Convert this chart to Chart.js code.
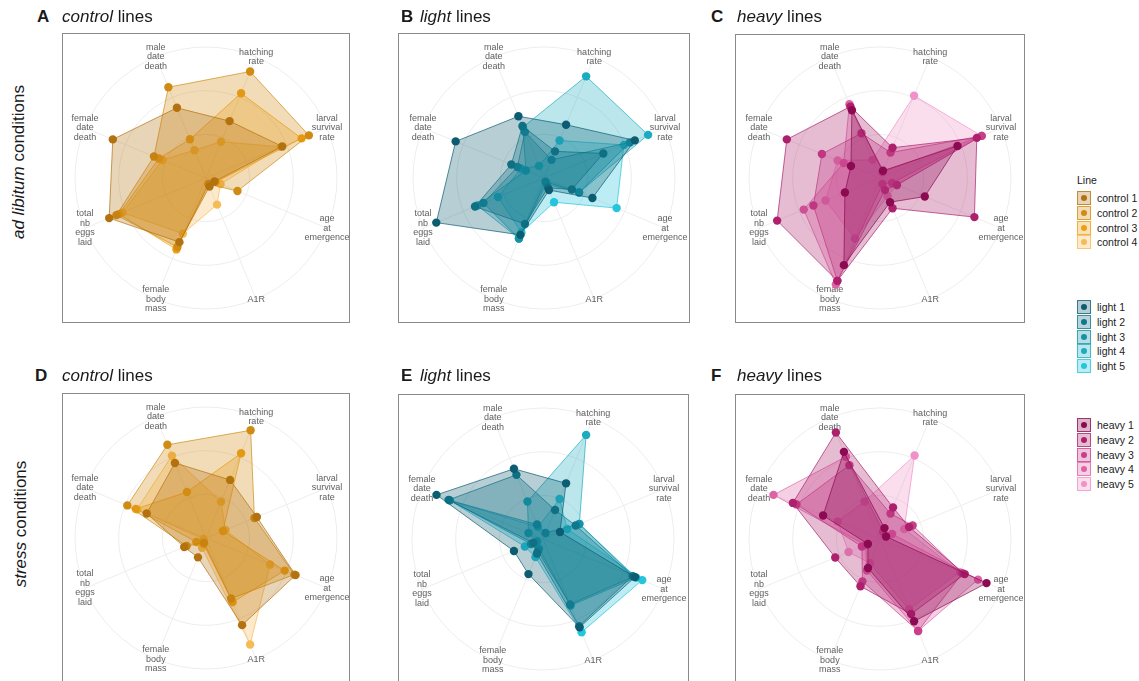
<!DOCTYPE html>
<html><head><meta charset="utf-8">
<script src="https://cdn.jsdelivr.net/npm/chart.js@4.4.1/dist/chart.umd.min.js"></script>
<style>
html,body{margin:0;padding:0;background:#fff;}
body{width:1139px;height:681px;position:relative;overflow:hidden;font-family:"Liberation Sans",Arial,sans-serif;color:#1a1a1a;}
.frame{position:absolute;border:1px solid #8a8a8a;box-sizing:border-box;pointer-events:none;}
canvas{position:absolute;}
.ttl{position:absolute;font-size:17px;line-height:20px;white-space:nowrap;}
.ttl .let{font-weight:bold;position:absolute;top:0;}
.ttl .txt{position:absolute;top:0;}
.row{position:absolute;width:240px;height:22px;line-height:22px;font-size:17px;text-align:center;white-space:nowrap;transform:rotate(-90deg);}
.legtitle{position:absolute;font-size:10.5px;line-height:14px;}
.legrow{position:absolute;height:15px;font-size:10.5px;line-height:14px;white-space:nowrap;}
.key{position:absolute;left:0;top:0;width:14px;height:14px;box-sizing:border-box;border:1px solid;}
.key i{position:absolute;left:3px;top:3px;width:6px;height:6px;border-radius:50%;}
.legrow span{position:absolute;left:20px;top:0;color:#222;}
</style></head>
<body>
<script>
// ---------- data ----------
const axisLabels = [
  ['hatching','rate'],
  ['larval','survival','rate'],
  ['age','at','emergence'],
  ['A1R'],
  ['female','body','mass'],
  ['total','nb','eggs','laid'],
  ['female','date','death'],
  ['male','date','death']
];
const gridSteps = [0, 1/3, 2/3, 1];

const controlNames = ['control 1','control 2','control 3','control 4'];
const lightNames   = ['light 1','light 2','light 3','light 4','light 5'];
const heavyNames   = ['heavy 1','heavy 2','heavy 3','heavy 4','heavy 5'];

const controlColors = ['#b3720f','#d08b12','#eda015','#f7bb55'];
const lightColors   = ['#0d5d72','#10788c','#1592a6','#1bacc1','#25c5db'];
const heavyColors   = ['#8b0a52','#ad206e','#c8408a','#de63a6','#f092c7'];

// values read per axis: hatching, larval, age, A1R, body mass, eggs, female death, male death
const adLibControl = [
  [0.47, 0.63, 0.07, 0.07, 0.53, 0.80, 0.77, 0.58],
  [0.88, 0.85, 0.26, 0.05, 0.57, 0.74, 0.43, 0.75],
  [0.70, 0.79, 0.08, 0.05, 0.59, 0.72, 0.39, 0.32],
  [0.30, 0.62, 0.12, 0.22, 0.46, 0.69, 0.36, 0.23]
];
const adLibLight = [
  [0.44, 0.75, 0.40, 0.10, 0.47, 0.89, 0.73, 0.51],
  [0.22, 0.49, 0.23, 0.08, 0.38, 0.57, 0.27, 0.43],
  [0.15, 0.71, 0.29, 0.03, 0.50, 0.50, 0.22, 0.38],
  [0.84, 0.86, 0.29, 0.05, 0.50, 0.55, 0.15, 0.42],
  [0.31, 0.66, 0.60, 0.20, 0.45, 0.38, 0.19, 0.10]
];
const adLibHeavy = [
  [0.06, 0.64, 0.37, 0.20, 0.72, 0.29, 0.24, 0.56],
  [0.25, 0.80, 0.78, 0.25, 0.85, 0.85, 0.77, 0.59],
  [0.21, 0.84, 0.14, 0.10, 0.85, 0.55, 0.48, 0.37],
  [0.05, 0.84, 0.10, 0.05, 0.88, 0.63, 0.30, 0.61],
  [0.68, 0.84, 0.14, 0.15, 0.50, 0.45, 0.35, 0.15]
];
const stressControl = [
  [0.48, 0.42, 0.74, 0.72, 0.16, 0.18, 0.49, 0.62],
  [0.89, 0.40, 0.73, 0.50, 0.04, 0.16, 0.65, 0.77],
  [0.70, 0.14, 0.65, 0.53, 0.05, 0.08, 0.58, 0.38],
  [0.30, 0.16, 0.53, 0.88, 0.08, 0.02, 0.57, 0.68]
];
const stressLight = [
  [0.46, 0.14, 0.76, 0.73, 0.29, 0.24, 0.88, 0.58],
  [0.24, 0.27, 0.74, 0.72, 0.12, 0.08, 0.78, 0.53],
  [0.05, 0.30, 0.75, 0.54, 0.10, 0.10, 0.77, 0.12],
  [0.86, 0.30, 0.77, 0.55, 0.08, 0.05, 0.12, 0.31],
  [0.33, 0.20, 0.82, 0.77, 0.15, 0.15, 0.77, 0.10]
];
const stressHeavy = [
  [0.09, 0.05, 0.88, 0.68, 0.24, 0.10, 0.47, 0.72],
  [0.26, 0.24, 0.70, 0.62, 0.39, 0.37, 0.72, 0.88],
  [0.21, 0.27, 0.68, 0.76, 0.35, 0.15, 0.69, 0.61],
  [0.06, 0.10, 0.81, 0.76, 0.26, 0.12, 0.88, 0.68],
  [0.69, 0.20, 0.66, 0.58, 0.20, 0.26, 0.35, 0.31]
];

// ---------- layout ----------
const panels = [
  {id:'A', word:'control', data:adLibControl,  names:controlNames, colors:controlColors, x:62,  y:33,  w:288, h:290, tx:37,  ty:7,  wx:62},
  {id:'B', word:'light',   data:adLibLight,    names:lightNames,   colors:lightColors,   x:398, y:33,  w:292, h:290, tx:401, ty:7,  wx:420},
  {id:'C', word:'heavy',   data:adLibHeavy,    names:heavyNames,   colors:heavyColors,   x:735, y:34,  w:290, h:289, tx:711, ty:7,  wx:737},
  {id:'D', word:'control', data:stressControl, names:controlNames, colors:controlColors, x:62,  y:393, w:288, h:290, tx:35,  ty:366, wx:62},
  {id:'E', word:'light',   data:stressLight,   names:lightNames,   colors:lightColors,   x:398, y:394, w:291, h:290, tx:401, ty:366, wx:420},
  {id:'F', word:'heavy',   data:stressHeavy,   names:heavyNames,   colors:heavyColors,   x:735, y:394, w:290, h:290, tx:711, ty:366, wx:737}
];

function rgba(hex, a){
  const n = parseInt(hex.slice(1),16);
  return `rgba(${(n>>16)&255},${(n>>8)&255},${n&255},${a})`;
}

const axisText = {
  id:'axisText',
  beforeDatasetsDraw(chart){
    const s = chart.scales.r, ctx = chart.ctx;
    ctx.save();
    ctx.font = '9px "Liberation Sans", Arial, sans-serif';
    ctx.fillStyle = '#606060';
    ctx.textAlign = 'center';
    ctx.textBaseline = 'middle';
    chart.data.labels.forEach((lab, i) => {
      const p = s.getPointPosition(i, s.drawingArea);
      const lines = Array.isArray(lab) ? lab : [lab];
      const lh = 9.6;
      lines.forEach((t, j) => ctx.fillText(t, p.x, p.y + (j - (lines.length - 1) / 2) * lh));
    });
    ctx.restore();
  }
};

const R = 131;
panels.forEach(p => {
  const cv = document.createElement('canvas');
  cv.width = p.w; cv.height = p.h;
  cv.style.left = p.x + 'px'; cv.style.top = p.y + 'px';
  cv.style.width = p.w + 'px'; cv.style.height = p.h + 'px';
  document.body.appendChild(cv);
  const fr = document.createElement('div');
  fr.className = 'frame';
  fr.style.cssText = `left:${p.x}px;top:${p.y}px;width:${p.w}px;height:${p.h}px;`;
  document.body.appendChild(fr);

  const t = document.createElement('div');
  t.className = 'ttl';
  t.style.cssText = `left:0;top:${p.ty}px;`;
  t.innerHTML = `<span class="let" style="left:${p.tx}px">${p.id}</span><span class="txt" style="left:${p.wx}px"><i>${p.word}</i> lines</span>`;
  document.body.appendChild(t);

  const padL = Math.floor((p.w - 2*R)/2), padT = Math.floor((p.h - 2*R)/2);
  new Chart(cv, {
    type:'radar',
    data:{
      labels: axisLabels,
      datasets: p.data.map((vals, k) => ({
        label: p.names[k],
        data: vals,
        fill: true,
        backgroundColor: rgba(p.colors[k], 0.3),
        borderColor: rgba(p.colors[k], 0.7),
        borderWidth: 1,
        pointRadius: 4.2,
        pointBackgroundColor: p.colors[k],
        pointBorderColor: p.colors[k],
        pointBorderWidth: 0,
        pointHoverRadius: 4.2
      }))
    },
    options:{
      responsive:false,
      animation:false,
      events:[],
      layout:{padding:{left:padL, right:p.w - 2*R - padL, top:padT, bottom:p.h - 2*R - padT}},
      plugins:{legend:{display:false}, tooltip:{enabled:false}},
      elements:{line:{tension:0}},
      scales:{
        r:{
          min:0, max:1,
          startAngle:22.5,
          ticks:{display:false},
          pointLabels:{display:false},
          grid:{circular:true, color:'#ededed', lineWidth:1},
          angleLines:{color:'#ededed', lineWidth:1},
          afterBuildTicks(s){ s.ticks = gridSteps.map(v => ({value:v})); }
        }
      }
    },
    plugins:[axisText]
  });
});

// row labels
function rowLabel(html, cx, cy){
  const d = document.createElement('div');
  d.className = 'row';
  d.style.left = (cx - 120) + 'px';
  d.style.top = (cy - 11) + 'px';
  d.innerHTML = html;
  document.body.appendChild(d);
}
rowLabel('<i>ad libitum</i> conditions', 19, 162);
rowLabel('<i>stress</i> conditions', 21, 524);

// legend
const lt = document.createElement('div');
lt.className = 'legtitle';
lt.style.cssText = 'left:1077px;top:173px;';
lt.textContent = 'Line';
document.body.appendChild(lt);
function legendGroup(names, colors, top){
  names.forEach((n, k) => {
    const r = document.createElement('div');
    r.className = 'legrow';
    r.style.left = '1077px';
    r.style.top = (top + k*14.8) + 'px';
    r.innerHTML = `<div class="key" style="background:${rgba(colors[k],0.3)};border-color:${rgba(colors[k],0.75)}"><i style="background:${colors[k]}"></i></div><span>${n}</span>`;
    document.body.appendChild(r);
  });
}
legendGroup(controlNames, controlColors, 191);
legendGroup(lightNames, lightColors, 300);
legendGroup(heavyNames, heavyColors, 418);
</script>
</body></html>
